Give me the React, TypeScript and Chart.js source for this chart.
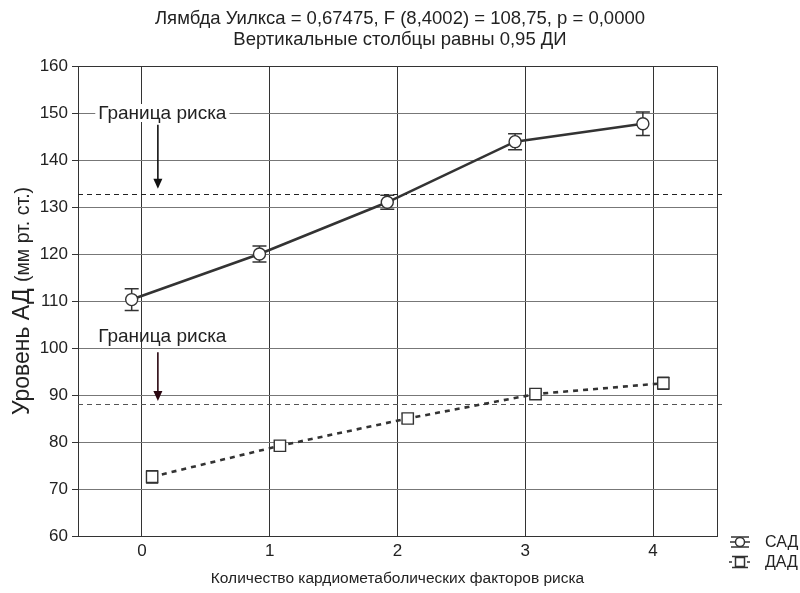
import React, { useEffect, useRef } from "react";
import { Chart, registerables } from "chart.js";
Chart.register(...registerables);

const FONT = '"Liberation Sans", Arial, Helvetica, sans-serif';

const titleLines = [
  "Лямбда Уилкса = 0,67475, F (8,4002) = 108,75, p = 0,0000",
  "Вертикальные столбцы равны 0,95 ДИ",
];
const xTitle = "Количество кардиометаболических факторов риска";
const yTitleMain = "Уровень АД";
const yTitleUnit = "(мм рт. ст.)";
const categories = [0, 1, 2, 3, 4];
const seriesNames = ["САД", "ДАД"];
const sadMean = [110.3, 120.0, 131.0, 143.9, 147.7];
const sadErr = [2.3, 1.7, 1.5, 1.7, 2.5];
const dadMean = [72.6, 79.2, 85.0, 90.2, 92.5];
const dadErr = [1.3, 1.0, 1.0, 1.0, 1.3];
const riskLevels = [132.8, 88.1];
const riskLabel = "Граница риска";
const riskLabelY = [150, 102.6];
const riskArrowFrom = [147.5, 99.1];
const riskArrowTo = [133.9, 88.7];
const riskLabelX = 0.16;
const riskArrowX = 0.125;
const seriesShift = [-0.08, 0.08];
const yMin = 60;
const yMax = 160;
const yStep = 10;

export default function App() {
  const ref = useRef<HTMLCanvasElement>(null);
  useEffect(() => {
    const canvas = ref.current!;
    const tickFont = { family: FONT, size: 17 };

    const deco = {
      id: "deco",
      beforeDatasetsDraw(chart: any) {
        const { ctx, chartArea, scales } = chart;
        const x = scales.x, y = scales.y;
        ctx.save();
        riskLevels.forEach((v, i) => {
          const py = Math.round(y.getPixelForValue(v)) + 0.5;
          ctx.beginPath();
          ctx.setLineDash([5, 4]);
          ctx.lineWidth = 1.2;
          ctx.strokeStyle = i === 0 ? "#222" : "#555";
          ctx.moveTo(chartArea.left, py);
          ctx.lineTo(chartArea.right + 5, py);
          ctx.stroke();
        });
        ctx.setLineDash([]);
        ctx.font = `19px ${FONT}`;
        ctx.textAlign = "center";
        ctx.textBaseline = "middle";
        riskLabelY.forEach((v, i) => {
          const px = x.getPixelForValue(riskLabelX);
          const py = y.getPixelForValue(v);
          if (i === 0) {
            const w = ctx.measureText(riskLabel).width;
            ctx.fillStyle = "#fff";
            ctx.fillRect(px - w / 2 - 3, py - 9, w + 6, 18);
          }
          ctx.fillStyle = "#222";
          ctx.fillText(riskLabel, px, py + 1);
          const ax = x.getPixelForValue(riskArrowX);
          const y1 = y.getPixelForValue(riskArrowFrom[i]);
          const y2 = y.getPixelForValue(riskArrowTo[i]);
          const col = i === 0 ? "#111" : "#2a0610";
          ctx.strokeStyle = col;
          ctx.fillStyle = col;
          ctx.lineWidth = 1.6;
          ctx.beginPath();
          ctx.moveTo(ax, y1);
          ctx.lineTo(ax, y2 - 8);
          ctx.stroke();
          ctx.beginPath();
          ctx.moveTo(ax - 4.5, y2 - 10);
          ctx.lineTo(ax + 4.5, y2 - 10);
          ctx.lineTo(ax, y2);
          ctx.closePath();
          ctx.fill();
        });
        const series = [
          { m: sadMean, e: sadErr, cap: 7 },
          { m: dadMean, e: dadErr, cap: 6 },
        ];
        series.forEach((s, si) => {
          ctx.strokeStyle = "#333";
          ctx.lineWidth = 1.5;
          categories.forEach((c, i) => {
            const px = x.getPixelForValue(c + seriesShift[si]);
            const hi = y.getPixelForValue(s.m[i] + s.e[i]);
            const lo = y.getPixelForValue(s.m[i] - s.e[i]);
            ctx.beginPath();
            ctx.moveTo(px, hi);
            ctx.lineTo(px, lo);
            ctx.moveTo(px - s.cap, hi);
            ctx.lineTo(px + s.cap, hi);
            ctx.moveTo(px - s.cap, lo);
            ctx.lineTo(px + s.cap, lo);
            ctx.stroke();
          });
        });
        ctx.restore();
      },
      afterDraw(chart: any) {
        const { ctx, chartArea } = chart;
        ctx.save();
        ctx.strokeStyle = "#333";
        ctx.lineWidth = 1;
        ctx.beginPath();
        ctx.moveTo(chartArea.left, Math.round(chartArea.top) + 0.5);
        ctx.lineTo(Math.round(chartArea.right) + 0.5, Math.round(chartArea.top) + 0.5);
        ctx.lineTo(Math.round(chartArea.right) + 0.5, chartArea.bottom);
        ctx.stroke();
        ctx.font = `18.5px ${FONT}`;
        ctx.fillStyle = "#222";
        ctx.textAlign = "center";
        ctx.textBaseline = "middle";
        ctx.fillText(titleLines[0], 400, 19);
        ctx.fillText(titleLines[1], 400, 40);
        ctx.save();
        ctx.translate(29, (chartArea.top + chartArea.bottom) / 2);
        ctx.rotate(-Math.PI / 2);
        ctx.textBaseline = "alphabetic";
        ctx.textAlign = "left";
        ctx.font = `23px ${FONT}`;
        const w1 = ctx.measureText(yTitleMain + " ").width;
        ctx.font = `19.5px ${FONT}`;
        const w2 = ctx.measureText(yTitleUnit).width;
        const start = -(w1 + w2) / 2;
        ctx.font = `23px ${FONT}`;
        ctx.fillText(yTitleMain + " ", start, 0);
        ctx.font = `19.5px ${FONT}`;
        ctx.fillText(yTitleUnit, start + w1, 0);
        ctx.restore();
        const lx = 740;
        const rows = [542, 562];
        ctx.textAlign = "left";
        ctx.textBaseline = "middle";
        ctx.font = `16px ${FONT}`;
        rows.forEach((ry, i) => {
          ctx.strokeStyle = "#333";
          ctx.lineWidth = 1.5;
          if (i === 0) {
            ctx.beginPath();
            ctx.moveTo(lx - 9, ry - 5); ctx.lineTo(lx + 9, ry - 5);
            ctx.moveTo(lx - 10, ry); ctx.lineTo(lx + 10, ry);
            ctx.moveTo(lx - 9, ry + 5); ctx.lineTo(lx + 9, ry + 5);
            ctx.stroke();
            ctx.beginPath();
            ctx.arc(lx, ry, 4.5, 0, Math.PI * 2);
            ctx.fillStyle = "#fff";
            ctx.fill();
            ctx.stroke();
          } else {
            ctx.beginPath();
            ctx.setLineDash([3, 3]);
            ctx.moveTo(lx - 11, ry); ctx.lineTo(lx + 11, ry);
            ctx.stroke();
            ctx.setLineDash([]);
            ctx.beginPath();
            ctx.moveTo(lx - 8, ry - 5.5); ctx.lineTo(lx + 8, ry - 5.5);
            ctx.moveTo(lx - 8, ry + 5.5); ctx.lineTo(lx + 8, ry + 5.5);
            ctx.stroke();
            ctx.fillStyle = "#fff";
            ctx.fillRect(lx - 4.5, ry - 4.5, 9, 9);
            ctx.strokeRect(lx - 4.5, ry - 4.5, 9, 9);
          }
          ctx.fillStyle = "#222";
          ctx.fillText(seriesNames[i], 765, ry + 1);
        });
        ctx.restore();
      },
    };

    const chart = new Chart(canvas, {
      type: "line",
      data: {
        datasets: [
          {
            label: seriesNames[0],
            data: categories.map((c, i) => ({ x: c + seriesShift[0], y: sadMean[i] })),
            borderColor: "#333",
            borderWidth: 2.6,
            pointStyle: "circle",
            pointRadius: 6,
            pointBorderWidth: 1.4,
            pointBackgroundColor: "#fff",
            pointBorderColor: "#333",
          },
          {
            label: seriesNames[1],
            data: categories.map((c, i) => ({ x: c + seriesShift[1], y: dadMean[i] })),
            borderColor: "#333",
            borderWidth: 2.6,
            borderDash: [5, 5],
            pointStyle: "rect",
            pointRadius: 8,
            pointBorderWidth: 1.4,
            pointBackgroundColor: "#fff",
            pointBorderColor: "#333",
          },
        ],
      },
      options: {
        responsive: false,
        animation: false,
        layout: { padding: { left: 0, top: 66, right: 83, bottom: 0 } },
        plugins: { legend: { display: false }, tooltip: { enabled: false }, title: { display: false } },
        scales: {
          x: {
            type: "linear",
            min: -0.5,
            max: 4.5,
            afterBuildTicks: (s: any) => {
              s.ticks = categories.map((v) => ({ value: v }));
            },
            afterFit: (s: any) => {
              s.height = 57;
            },
            ticks: { font: tickFont, color: "#222", padding: 5, callback: (v: any) => String(v) },
            grid: { color: "#333", lineWidth: 1, drawTicks: false },
            border: { color: "#333", width: 1 },
            title: { display: true, text: xTitle, font: { family: FONT, size: 15.5 }, color: "#222", padding: { top: 0, bottom: 5 } },
          },
          y: {
            type: "linear",
            min: yMin,
            max: yMax,
            afterFit: (s: any) => {
              s.width = 78;
            },
            ticks: { stepSize: yStep, font: tickFont, color: "#222", padding: 4 },
            grid: { color: "#777", lineWidth: 1, tickLength: 6, tickColor: "#333" },
            border: { color: "#333", width: 1 },
            title: { display: false },
          },
        },
      },
      plugins: [deco],
    } as any);
    return () => chart.destroy();
  }, []);
  return (
    <div style={{ position: "absolute", left: 0, top: 0, width: 800, height: 593, background: "#fff" }}>
      <canvas ref={ref} width={800} height={593} style={{ display: "block" }} />
    </div>
  );
}
